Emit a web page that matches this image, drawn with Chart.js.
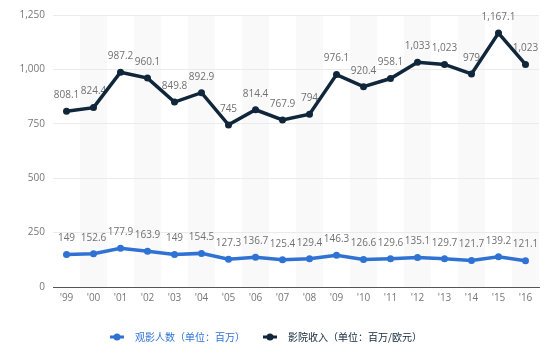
<!DOCTYPE html>
<html lang="zh">
<head>
    <meta charset="UTF-8">
    <title>观影人数与影院收入</title>
    <script src="https://cdn.jsdelivr.net/npm/chart.js"></script>
    <style>
        html, body { margin: 0; padding: 0; background: #fff; }
        #wrap { width: 558px; height: 353px; position: relative; }
    </style>
</head>
<body>
    <div id="wrap"><canvas id="lineCanvas"></canvas></div>
    <script>
        var years = ["'99", "'00", "'01", "'02", "'03", "'04", "'05", "'06", "'07", "'08", "'09", "'10", "'11", "'12", "'13", "'14", "'15", "'16"];
        var admissions = [149, 152.6, 177.9, 163.9, 149, 154.5, 127.3, 136.7, 125.4, 129.4, 146.3, 126.6, 129.6, 135.1, 129.7, 121.7, 139.2, 121.1];
        var revenue = [808.1, 824.4, 987.2, 960.1, 849.8, 892.9, 745, 814.4, 767.9, 794, 976.1, 920.4, 958.1, 1033, 1023, 979, 1167.1, 1023];
        var yTicks = [0, 250, 500, 750, 1000, 1250];

        var blue = '#2f72d4';
        var navy = '#10263a';
        var labelFont = '10px "Open Sans", sans-serif';

        function fmt(v) {
            return v.toLocaleString('en-US', { maximumFractionDigits: 1 });
        }

        // light stripes behind every other year
        var stripes = {
            id: 'stripes',
            beforeDraw: function (chart) {
                var ctx = chart.ctx, x = chart.scales.x, area = chart.chartArea;
                var w = (area.right - area.left) / years.length;
                ctx.save();
                ctx.fillStyle = '#f9f9f9';
                for (var i = 1; i < years.length; i += 2) {
                    ctx.fillRect(x.getPixelForValue(i) - w / 2, area.top, w, area.bottom - area.top);
                }
                ctx.restore();
            }
        };

        // value labels, drawn under the lines like in the original
        var valueLabels = {
            id: 'valueLabels',
            beforeDatasetsDraw: function (chart) {
                var ctx = chart.ctx;
                ctx.save();
                ctx.font = labelFont;
                ctx.fillStyle = '#707070';
                ctx.textAlign = 'center';
                ctx.textBaseline = 'middle';
                chart.data.datasets.forEach(function (ds, di) {
                    chart.getDatasetMeta(di).data.forEach(function (pt, i) {
                        ctx.fillText(fmt(ds.data[i]), pt.x, pt.y - 16);
                    });
                });
                ctx.restore();
            }
        };

        var customLegend = {
            id: 'customLegend',
            afterDraw: function (chart) {
                var ctx = chart.ctx;
                var items = [
                    { x: 117, ds: chart.data.datasets[0] },
                    { x: 270, ds: chart.data.datasets[1] }
                ];
                var y = 337;
                ctx.save();
                ctx.font = '10px "Noto Sans CJK SC", sans-serif';
                ctx.textBaseline = 'middle';
                items.forEach(function (it) {
                    ctx.strokeStyle = it.ds.borderColor;
                    ctx.lineWidth = 3;
                    ctx.beginPath();
                    ctx.moveTo(it.x - 7, y);
                    ctx.lineTo(it.x + 7, y);
                    ctx.stroke();
                    ctx.fillStyle = it.ds.borderColor;
                    ctx.beginPath();
                    ctx.arc(it.x, y, 3.5, 0, Math.PI * 2);
                    ctx.fill();
                    ctx.fillText(it.ds.label, it.x + 18, y);
                });
                ctx.restore();
            }
        };

        var ctx = document.getElementById('lineCanvas').getContext('2d');
        window.myChart = new Chart(ctx, {
            type: 'line',
            data: {
                labels: years,
                datasets: [{
                    label: '观影人数（单位：百万）',
                    data: admissions,
                    borderColor: blue,
                    backgroundColor: blue,
                    borderWidth: 3.5,
                    pointRadius: 3.5,
                    pointBackgroundColor: blue,
                    pointBorderWidth: 0,
                    tension: 0
                }, {
                    label: '影院收入（单位：百万/欧元）',
                    data: revenue,
                    borderColor: navy,
                    backgroundColor: navy,
                    borderWidth: 3.5,
                    pointRadius: 3.5,
                    pointBackgroundColor: navy,
                    pointBorderWidth: 0,
                    tension: 0
                }]
            },
            options: {
                responsive: true,
                maintainAspectRatio: false,
                animation: false,
                layout: { padding: { top: 15, right: 19, bottom: 0, left: 0 } },
                plugins: {
                    legend: { display: false },
                    tooltip: { enabled: false }
                },
                scales: {
                    x: {
                        offset: true,
                        grid: { display: false, drawTicks: false },
                        border: { display: true, color: '#555', width: 1 },
                        ticks: { color: '#777', font: { family: 'Open Sans', size: 10 }, padding: 5, maxRotation: 0, autoSkip: false },
                        afterFit: function (scale) { scale.height = 66; }
                    },
                    y: {
                        min: 0,
                        max: 1250,
                        afterBuildTicks: function (scale) {
                            scale.ticks = yTicks.map(function (v) { return { value: v }; });
                        },
                        grid: { color: '#ebebeb', drawTicks: false },
                        border: { display: false },
                        ticks: {
                            color: '#777',
                            font: { family: 'Open Sans', size: 10 },
                            padding: 8,
                            callback: function (v) { return fmt(v); }
                        },
                        afterFit: function (scale) { scale.width = 53; }
                    }
                }
            },
            plugins: [stripes, valueLabels, customLegend]
        });
    </script>
</body>
</html>
